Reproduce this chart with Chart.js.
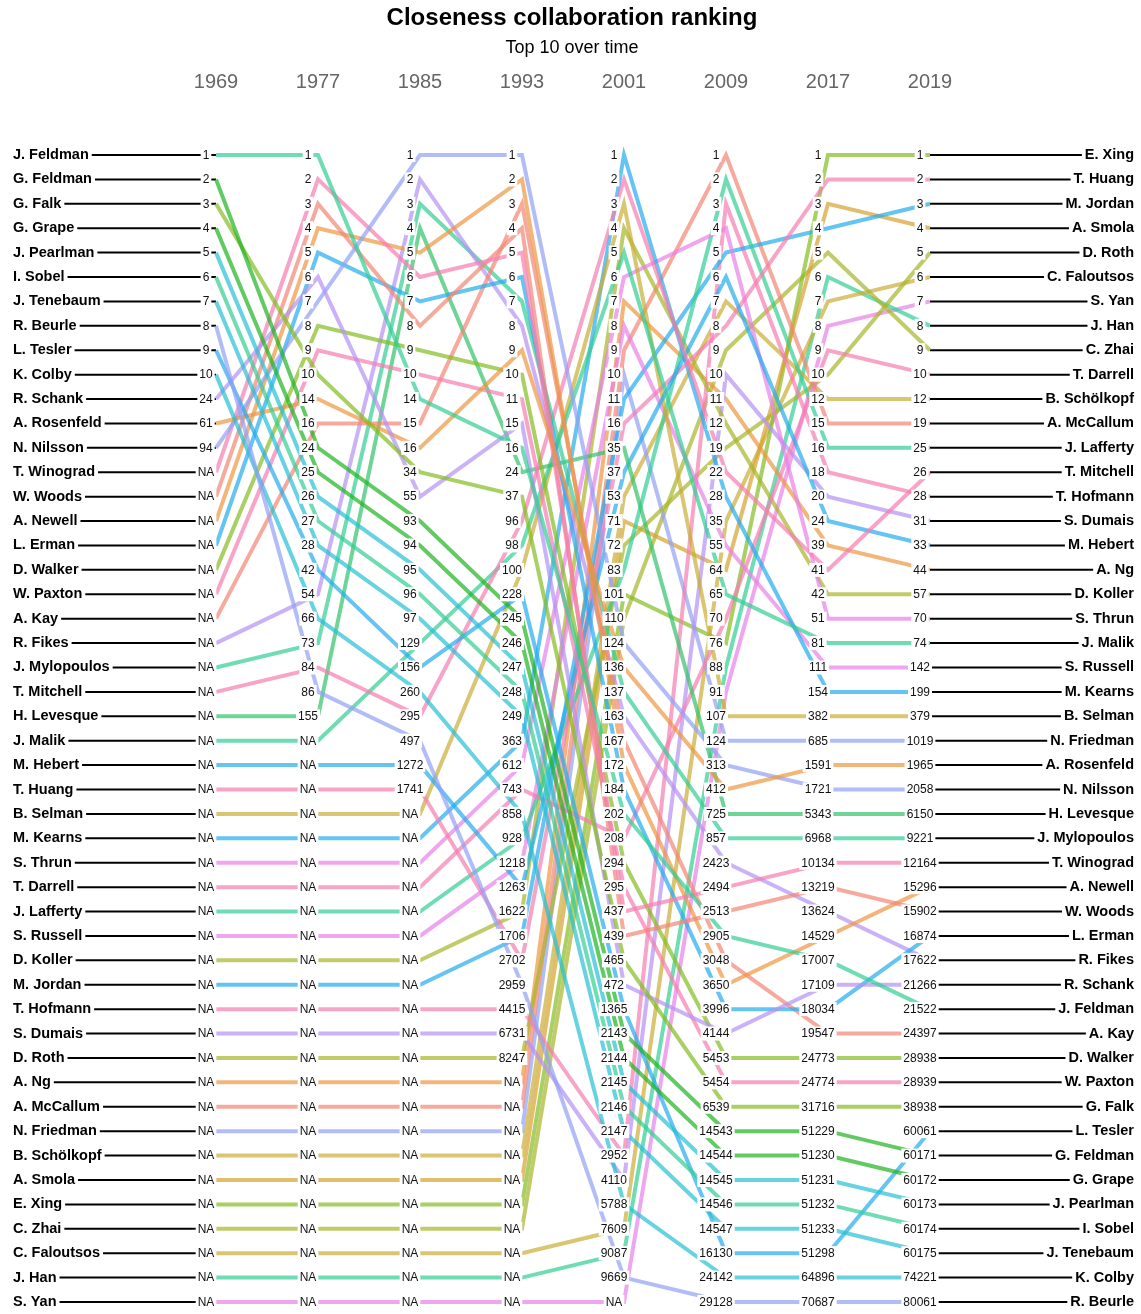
<!DOCTYPE html>
<html>
<head>
<meta charset="utf-8">
<script src="https://cdn.jsdelivr.net/npm/chart.js@4.4.0/dist/chart.umd.min.js"></script>
<style>
  html, body { margin: 0; padding: 0; background: #fff; }
  #wrap { width: 1141px; height: 1314px; }
</style>
</head>
<body>
<div id="wrap"><canvas id="rankChart" width="1141" height="1314"></canvas></div>
<script>
// column headers
const years = ['1969', '1977', '1985', '1993', '2001', '2009', '2017', '2019'];

// people, in the order of the first column
const names = [
  'J. Feldman', 'G. Feldman', 'G. Falk', 'G. Grape', 'J. Pearlman', 'I. Sobel', 'J. Tenebaum', 'R. Beurle',
  'L. Tesler', 'K. Colby', 'R. Schank', 'A. Rosenfeld', 'N. Nilsson', 'T. Winograd', 'W. Woods', 'A. Newell',
  'L. Erman', 'D. Walker', 'W. Paxton', 'A. Kay', 'R. Fikes', 'J. Mylopoulos', 'T. Mitchell', 'H. Levesque',
  'J. Malik', 'M. Hebert', 'T. Huang', 'B. Selman', 'M. Kearns', 'S. Thrun', 'T. Darrell', 'J. Lafferty',
  'S. Russell', 'D. Koller', 'M. Jordan', 'T. Hofmann', 'S. Dumais', 'D. Roth', 'A. Ng', 'A. McCallum',
  'N. Friedman', 'B. Schölkopf', 'A. Smola', 'E. Xing', 'C. Zhai', 'C. Faloutsos', 'J. Han', 'S. Yan'
];

// closeness rank per year (null = NA), same order as names
const rank1969 = [1, 2, 3, 4, 5, 6, 7, 8, 9, 10, 24, 61, 94,
  null, null, null, null, null, null, null, null, null, null, null,
  null, null, null, null, null, null, null, null, null, null, null, null,
  null, null, null, null, null, null, null, null, null, null, null, null];
const rank1977 = [1, 24, 10, 25, 26, 27, 28, 86, 42, 66, 6, 14, 7, 2, 3, 4,
  5, 8, 9, 16, 54, 73, 84, 155,
  null, null, null, null, null, null, null, null, null, null, null, null,
  null, null, null, null, null, null, null, null, null, null, null, null];
const rank1985 = [14, 93, 34, 94, 95, 96, 97, 497, 156, 260, 55, 16, 1, 6, 8, 5,
  7, 9, 10, 15, 2, 3, 295, 4, 129, 1272, 1741,
  null, null, null, null, null, null, null, null, null, null, null, null,
  null, null, null, null, null, null, null, null, null];
const rank1993 = [16, 245, 37, 246, 247, 248, 249, 2959, 228, 858, 15, 9, 1, 5, 4, 2,
  6, 10, 11, 3, 8, 7, 96, 24, 98, 1263, 2702, 100, 363, 612, 743, 928,
  1218, 1622, 1706, 4415, 6731, 8247,
  null, null, null, null, null, null, null, null, null, null];
const rank2001 = [202, 2143, 465, 2144, 2145, 2146, 2147, 9669, 1365, 5788, 472, 136, 124, 437, 439, 172,
  184, 294, 295, 167, 163, 137, 2, 35, 5, 37, 16, 3, 1, 6, 208, 83,
  8, 4, 11, 2952, 4110, 72, 7, 9, 10, 53, 71, 101, 110, 7609, 9087, null];
const rank2009 = [2905, 14543, 6539, 14544, 14545, 14546, 14547, 29128, 16130, 24142, 4144, 412, 313, 2494, 2513, 3650,
  3996, 5453, 5454, 3048, 2423, 857, 22, 725, 65, 6, 8, 107, 28, 4, 70, 2,
  55, 12, 5, 3, 10, 19, 11, 1, 124, 7, 64, 76, 9, 35, 88, 91];
const rank2017 = [17007, 51229, 31716, 51230, 51231, 51232, 51233, 70687, 51298, 64896, 17109, 1591, 1721, 10134, 13219, 14529,
  18034, 24773, 24774, 19547, 13624, 6968, 41, 5343, 81, 24, 2, 382, 154, 51, 9, 16,
  111, 42, 4, 18, 20, 10, 39, 15, 685, 12, 3, 1, 5, 7, 6, 8];
const rank2019 = [21522, 60171, 38938, 60172, 60173, 60174, 60175, 80061, 60061, 74221, 21266, 1965, 2058, 12164, 15902, 15296,
  16874, 28938, 28939, 24397, 17622, 9221, 26, 6150, 74, 33, 2, 379, 199, 70, 10, 25,
  142, 57, 3, 28, 31, 5, 44, 19, 1019, 12, 4, 1, 9, 6, 8, 7];

const ranks = [rank1969, rank1977, rank1985, rank1993, rank2001, rank2009, rank2017, rank2019];

// line colours (as they look on white)
const TEAL = '#70dcb4', GREEN = '#62ca62', LGREEN = '#70d496', OLIVE = '#a8d064', OLIVE2 = '#c2cb6a',
  KHAKI = '#d9c572', KHAKI2 = '#e2bd6c', CYAN = '#68d2e0', BLUE = '#66c4f2', LAV = '#cbb3f6',
  PERI = '#b3bdf8', PINK = '#f8a4c8', MAG = '#eea6ee', SALMON = '#f6aa9e', ORANGE = '#f2b57a';
const colors = [
  TEAL, GREEN, OLIVE, GREEN, CYAN, TEAL, CYAN, PERI,
  BLUE, CYAN, LAV, ORANGE, PERI, PINK, SALMON, ORANGE,
  BLUE, OLIVE, PINK, SALMON, LAV, TEAL, PINK, LGREEN,
  TEAL, BLUE, PINK, KHAKI, BLUE, MAG, PINK, TEAL,
  MAG, OLIVE2, BLUE, PINK, LAV, OLIVE2, ORANGE, SALMON,
  PERI, KHAKI, KHAKI2, OLIVE, OLIVE2, KHAKI, TEAL, MAG
];

const FONT = '"Liberation Sans", Arial, sans-serif';
const ALPHA = 0.7;

// turn the seen colour into a translucent one that looks the same on white
function seen(hex, a) {
  const v = [1, 3, 5].map(p => parseInt(hex.substr(p, 2), 16));
  const b = v.map(c => Math.max(0, Math.round(255 - (255 - c) / a)));
  return `rgba(${b[0]}, ${b[1]}, ${b[2]}, ${a})`;
}

// row of each person in each column: sorted by rank, NA last
const order = ranks.map(col => names.map((_, i) => i).sort((a, b) => {
  const va = col[a] == null ? Infinity : col[a];
  const vb = col[b] == null ? Infinity : col[b];
  return (va - vb) || (a - b);
}));
const rowOf = order.map(o => {
  const r = [];
  o.forEach((p, pos) => { r[p] = pos; });
  return r;
});

const textPlugin = {
  id: 'rankText',
  beforeDatasetsDraw(chart) {
    const ctx = chart.ctx;
    const xs = chart.scales.x, ys = chart.scales.y;
    ctx.save();
    ctx.textBaseline = 'middle';
    ctx.textAlign = 'center';
    ctx.fillStyle = '#000';
    ctx.font = 'bold 24px ' + FONT;
    ctx.fillText('Closeness collaboration ranking', 572, 18);
    ctx.font = '18px ' + FONT;
    ctx.fillText('Top 10 over time', 572, 48);
    ctx.font = '20px ' + FONT;
    ctx.fillStyle = '#666';
    years.forEach((yr, k) => ctx.fillText(yr, xs.getPixelForValue(k), 82));

    // names with their leader lines
    ctx.font = 'bold 14.5px ' + FONT;
    ctx.fillStyle = '#000';
    ctx.strokeStyle = '#000';
    ctx.lineWidth = 2;
    const x0 = xs.getPixelForValue(0);
    const x7 = xs.getPixelForValue(years.length - 1);
    order[0].forEach((p, r) => {
      const y = ys.getPixelForValue(r);
      ctx.textAlign = 'left';
      ctx.fillText(names[p], 13, y);
      const w = ctx.measureText(names[p]).width;
      ctx.beginPath();
      ctx.moveTo(13 + w + 3, y);
      ctx.lineTo(x0, y);
      ctx.stroke();
    });
    order[years.length - 1].forEach((p, r) => {
      const y = ys.getPixelForValue(r);
      ctx.textAlign = 'right';
      ctx.fillText(names[p], 1134, y);
      const w = ctx.measureText(names[p]).width;
      ctx.beginPath();
      ctx.moveTo(x7, y);
      ctx.lineTo(1134 - w - 3, y);
      ctx.stroke();
    });
    ctx.restore();
  },
  afterDatasetsDraw(chart) {
    const ctx = chart.ctx;
    const xs = chart.scales.x, ys = chart.scales.y;
    ctx.save();
    ctx.font = '12px ' + FONT;
    ctx.textBaseline = 'middle';
    ctx.textAlign = 'center';
    ranks.forEach((col, k) => {
      const x = xs.getPixelForValue(k) - 10;
      order[k].forEach((p, r) => {
        const y = ys.getPixelForValue(r);
        const txt = col[p] == null ? 'NA' : String(col[p]);
        const w = ctx.measureText(txt).width;
        ctx.fillStyle = '#fff';
        ctx.fillRect(x - w / 2 - 2, y - 7, w + 4, 14);
        ctx.fillStyle = '#111';
        ctx.fillText(txt, x, y + 0.5);
      });
    });
    ctx.restore();
  }
};

new Chart(document.getElementById('rankChart').getContext('2d'), {
  type: 'line',
  data: {
    datasets: names.map((n, i) => ({
      label: n,
      data: years.map((_, k) => ({ x: k, y: rowOf[k][i] })),
      borderColor: seen(colors[i], ALPHA),
      backgroundColor: seen(colors[i], ALPHA),
      borderWidth: 4,
      pointRadius: 0,
      tension: 0,
      fill: false,
      clip: false
    }))
  },
  options: {
    responsive: false,
    animation: false,
    devicePixelRatio: 1,
    layout: { padding: { left: 216, right: 211, top: 155, bottom: 12 } },
    scales: {
      x: { type: 'linear', min: 0, max: years.length - 1, display: false },
      y: { type: 'linear', min: 0, max: names.length - 1, reverse: true, display: false }
    },
    plugins: {
      legend: { display: false },
      tooltip: { enabled: false },
      title: { display: false }
    }
  },
  plugins: [textPlugin]
});
</script>
</body>
</html>
